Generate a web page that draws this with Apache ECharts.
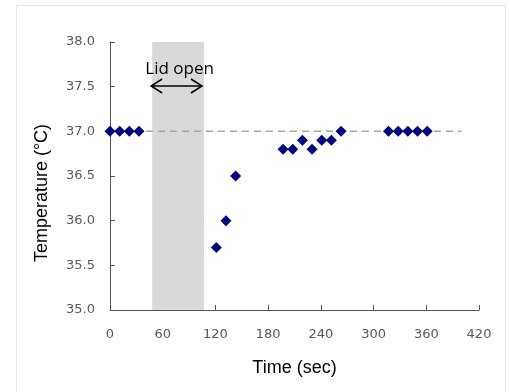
<!DOCTYPE html>
<html><head><meta charset="utf-8">
<script src="https://cdn.jsdelivr.net/npm/echarts@6/dist/echarts.min.js"></script>
<style>html,body{margin:0;padding:0;background:#fff}#c{width:510px;height:392px}</style>
</head><body><div id="c"></div>
<script>
const timeSec = [0, 11, 22, 33, 121, 132, 143, 197, 208, 219, 230, 241, 252, 263, 317, 328, 339, 350, 361];
const tempC   = [37.0, 37.0, 37.0, 37.0, 35.7, 36.0, 36.5, 36.8, 36.8, 36.9, 36.8, 36.9, 36.9, 37.0, 37.0, 37.0, 37.0, 37.0, 37.0];
const lidOpen = [48, 107];
const refLineX = [0, 400];
const refTemp = 37.0;
const xTicks = [0, 60, 120, 180, 240, 300, 360, 420];
const yTicks = [35.0, 35.5, 36.0, 36.5, 37.0, 37.5, 38.0];

const chart = echarts.init(document.getElementById('c'));
const axisFont = {color:'#595959', fontFamily:'DejaVu Sans', fontSize:13};
chart.setOption({
  animation:false,
  grid: {left:110, right:31, top:42, bottom:82},
  xAxis:{
    type:'value', min:xTicks[0], max:xTicks[xTicks.length-1], interval:60,
    name:'Time (sec)', nameLocation:'middle', nameGap:49,
    nameTextStyle:{color:'#000', fontFamily:'Liberation Sans', fontSize:18},
    axisLine:{lineStyle:{color:'#555', width:1}},
    axisTick:{inside:true, length:5, lineStyle:{color:'#555'}},
    axisLabel:Object.assign({margin:18}, axisFont),
    splitLine:{show:false}
  },
  yAxis:{
    type:'value', min:yTicks[0], max:yTicks[yTicks.length-1], interval:0.5,
    name:'Temperature (°C)', nameLocation:'middle', nameGap:59,
    nameTextStyle:{color:'#000', fontFamily:'Liberation Sans', fontSize:18, padding:[0,34,0,0]},
    axisLine:{show:true, lineStyle:{color:'#555', width:1}},
    axisTick:{show:true, inside:true, length:5, lineStyle:{color:'#555'}},
    axisLabel:Object.assign({margin:15, formatter:v=>v.toFixed(1)}, axisFont),
    splitLine:{show:false}
  },
  series:[
    {
      type:'line', data:[[refLineX[0],refTemp],[refLineX[1],refTemp]],
      symbol:'none', lineStyle:{color:'#a6a6a6', width:1.5, type:[7,5]}, z:1,
      markArea:{silent:true, itemStyle:{color:'#d9d9d9'},
        data:[[{xAxis:lidOpen[0]},{xAxis:lidOpen[1]}]]}
    },
    {
      type:'scatter', data:timeSec.map((t,i)=>[t,tempC[i]]),
      symbol:'diamond', symbolSize:[11,11], itemStyle:{color:'#000080', opacity:1}, z:3
    }
  ]
});

function drawAnno(){
  const p0 = chart.convertToPixel({gridIndex:0}, [lidOpen[0], 37.75]);
  const p1 = chart.convertToPixel({gridIndex:0}, [lidOpen[1], 37.75]);
  const y = 86, xa = p0[0]-1, xb = p1[0]-2, h = 7;
  chart.setOption({graphic:[
    {type:'rect', left:14, top:3, shape:{x:0,y:0,width:489,height:400}, style:{fill:'none', stroke:'#e3e3e3', lineWidth:1}, silent:true},
    {type:'text', x:(xa+xb)/2+3, y:69, style:{text:'Lid open', fill:'#000', font:'17px "Open Sans"', textAlign:'center', textVerticalAlign:'middle'}, z:10},
    {type:'line', shape:{x1:xa, y1:y, x2:xb, y2:y}, style:{stroke:'#000', lineWidth:1.5}, z:10},
    {type:'polyline', shape:{points:[[xa+h+4,y-h],[xa,y],[xa+h+4,y+h]]}, style:{stroke:'#000', lineWidth:1.5, fill:'none'}, z:10},
    {type:'polyline', shape:{points:[[xb-h-4,y-h],[xb,y],[xb-h-4,y+h]]}, style:{stroke:'#000', lineWidth:1.5, fill:'none'}, z:10}
  ]});
}
drawAnno();
</script></body></html>
